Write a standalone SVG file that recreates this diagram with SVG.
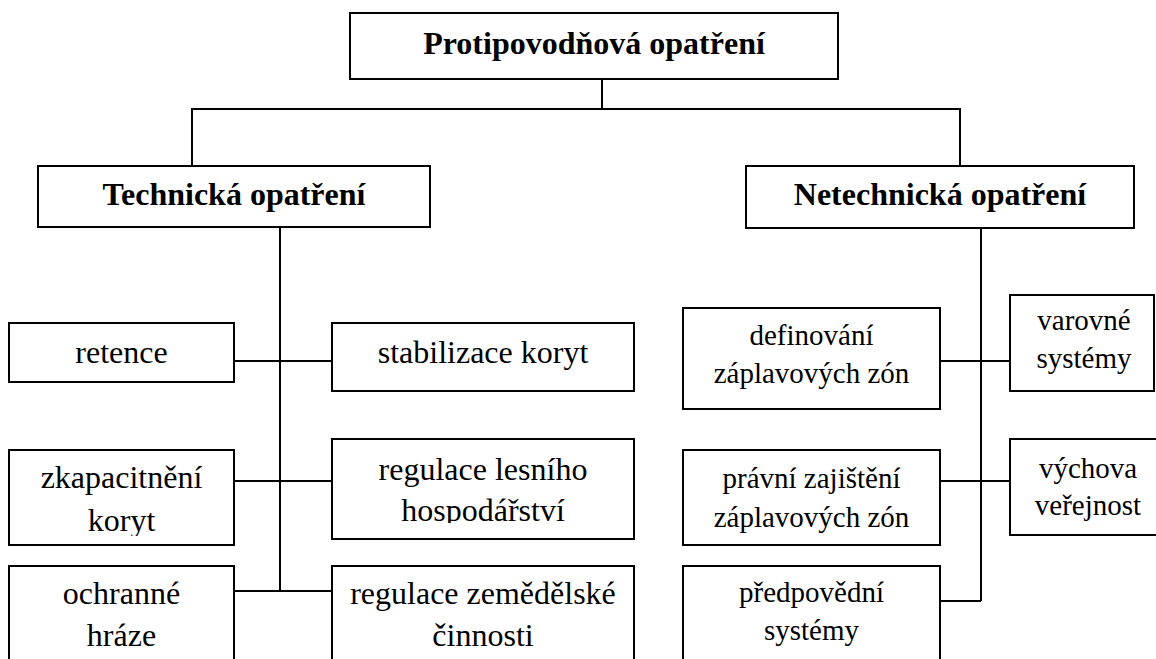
<svg xmlns="http://www.w3.org/2000/svg" width="1156" height="659" viewBox="0 0 1156 659">
<style>
rect.b{fill:#fff;stroke:#000;stroke-width:2}
.c line, .c path{stroke:#000;stroke-width:2;fill:none}
text{font-family:"Liberation Serif","Times New Roman",serif;fill:#000;text-anchor:middle}
.h{font-weight:bold;font-size:32px}
.l{font-size:32px}
.r{font-size:29px}
</style>
<defs>
<clipPath id="clipZk"><rect x="9" y="450" width="225" height="86"/></clipPath>
<clipPath id="clipLes"><rect x="332" y="439" width="302" height="84"/></clipPath>
</defs>
<rect width="1156" height="659" fill="#fff"/>
<g class="c" id="connectors">
<line x1="602" y1="79" x2="602" y2="109"/>
<path d="M192 166 V109 H960 V166"/>
<line x1="280" y1="227" x2="280" y2="591"/>
<line x1="234" y1="361" x2="332" y2="361"/>
<line x1="234" y1="481" x2="332" y2="481"/>
<line x1="234" y1="591" x2="332" y2="591"/>
<line x1="981" y1="228" x2="981" y2="601"/>
<line x1="940" y1="361" x2="1010" y2="361"/>
<line x1="940" y1="481" x2="1010" y2="481"/>
<line x1="940" y1="601" x2="981" y2="601"/>
</g>
<g id="root"><rect class="b" x="350" y="13" width="488" height="66"/><text class="h" x="594" y="54">Protipovodňová opatření</text></g>
<g id="technicka"><rect class="b" x="38" y="166" width="392" height="61"/><text class="h" x="234" y="205">Technická opatření</text></g>
<g id="netechnicka"><rect class="b" x="746" y="166" width="388" height="62"/><text class="h" x="940" y="205">Netechnická opatření</text></g>
<g id="retence"><rect class="b" x="9" y="323" width="225" height="59"/><text class="l" x="121.5" y="363">retence</text></g>
<g id="stabilizace"><rect class="b" x="332" y="323" width="302" height="68"/><text class="l" x="483" y="363">stabilizace koryt</text></g>
<g id="zkapacitneni"><rect class="b" x="9" y="450" width="225" height="95"/><g clip-path="url(#clipZk)"><text class="l" x="121.5" y="488">zkapacitnění</text><text class="l" x="121.5" y="531">koryt</text></g></g>
<g id="lesni"><rect class="b" x="332" y="439" width="302" height="100"/><g clip-path="url(#clipLes)"><text class="l" x="483" y="480">regulace lesního</text><text class="l" x="483" y="521">hospodářství</text></g></g>
<g id="hraze"><rect class="b" x="9" y="566" width="225" height="110"/><text class="l" x="121.5" y="604">ochranné</text><text class="l" x="121.5" y="646">hráze</text></g>
<g id="zemedelske"><rect class="b" x="332" y="566" width="302" height="110"/><text class="l" x="483" y="604">regulace zemědělské</text><text class="l" x="483" y="646">činnosti</text></g>
<g id="definovani"><rect class="b" x="683" y="308" width="257" height="101"/><text class="r" x="811.5" y="345">definování</text><text class="r" x="811.5" y="383">záplavových zón</text></g>
<g id="varovne"><rect class="b" x="1010" y="295" width="144" height="96"/><text class="r" x="1084" y="330">varovné</text><text class="r" x="1084" y="368">systémy</text></g>
<g id="pravni"><rect class="b" x="683" y="450" width="257" height="95"/><text class="r" x="811.5" y="488">právní zajištění</text><text class="r" x="811.5" y="527">záplavových zón</text></g>
<g id="vychova"><rect class="b" x="1010" y="439" width="156" height="96"/><text class="r" x="1088" y="478">výchova</text><text class="r" x="1088" y="515">veřejnost</text></g>
<g id="predpovedni"><rect class="b" x="683" y="566" width="257" height="110"/><text class="r" x="811.5" y="602">předpovědní</text><text class="r" x="811.5" y="640">systémy</text></g>
</svg>
